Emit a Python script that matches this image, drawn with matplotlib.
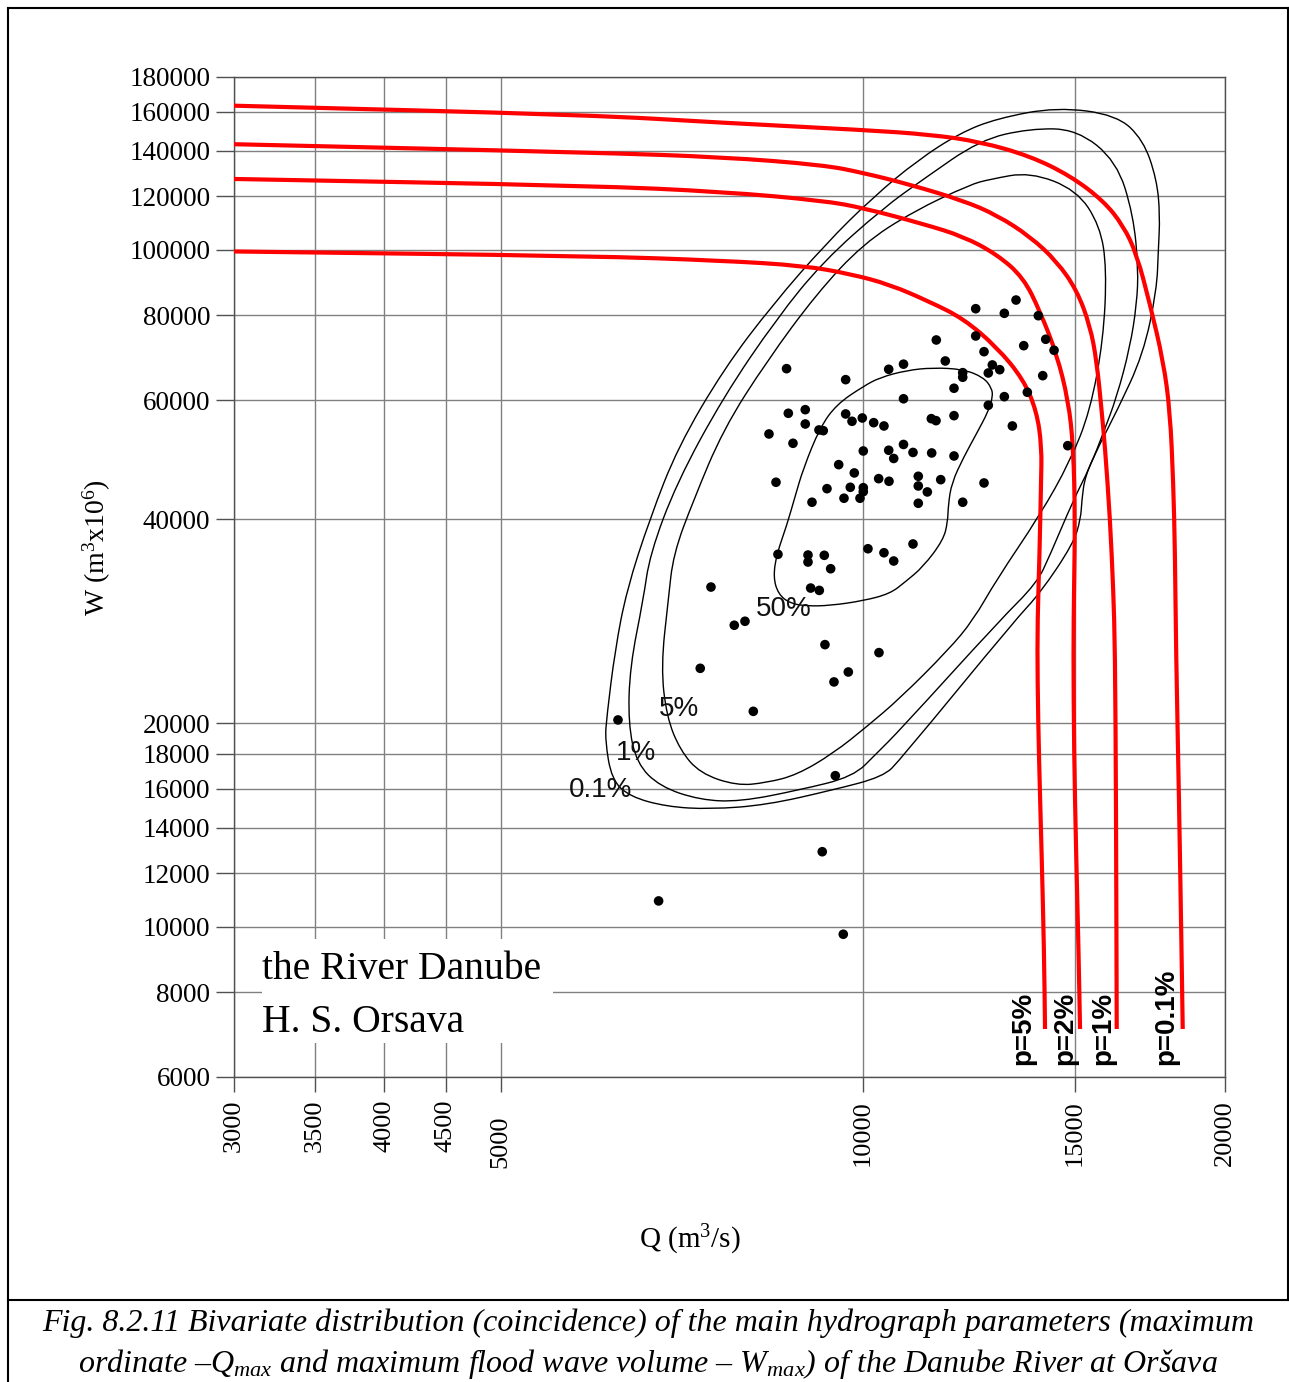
import numpy as np
import matplotlib
matplotlib.use("Agg")
import matplotlib.pyplot as plt
from matplotlib.lines import Line2D
from matplotlib.patches import Rectangle, PathPatch
from matplotlib.path import Path
from matplotlib.ticker import NullLocator
from matplotlib.transforms import blended_transform_factory

plt.rcParams["font.family"] = ["Liberation Serif", "DejaVu Serif"]
plt.rcParams["mathtext.fontset"] = "custom"
plt.rcParams["mathtext.rm"] = "Liberation Serif"
plt.rcParams["mathtext.it"] = "Liberation Serif:italic"
plt.rcParams["mathtext.bf"] = "Liberation Serif:bold"

# ---- axis ticks -------------------------------------------------------
x_ticks = [3000, 3500, 4000, 4500, 5000, 10000, 15000, 20000]
x_tick_labels = ["3000", "3500", "4000", "4500", "5000", "10000", "15000", "20000"]
y_ticks = [6000, 8000, 10000, 12000, 14000, 16000, 18000, 20000,
           40000, 60000, 80000, 100000, 120000, 140000, 160000, 180000]
y_tick_labels = [str(v) for v in y_ticks]

# ---- observed flood events: peak discharge Q (m3/s), volume W (10^6 m3)
q_obs = [8640, 9675, 10506, 10808, 10808, 8669, 8955, 8955, 8354, 8747,
         9193, 9269, 9675, 9793, 9988, 10208, 10411, 10007, 10506, 10808,
         10607, 12410, 13406, 13109, 13991, 11508, 12410, 14190, 13605, 14418,
         12609, 11708, 12811, 12994, 12713, 12105, 12105, 14109, 11905, 13699,
         13109, 12713, 11399, 11502, 11905, 13312, 11006, 11407, 11905, 14801,
         8467, 9547, 9836, 10306, 10512, 9335, 9761, 10007, 10007, 9644,
         9944, 9071, 10097, 10411, 10607, 8499, 9002, 9002, 9287, 9401,
         9048, 9199, 11118, 11118, 11606, 11312, 11118, 12105, 12609, 11006,
         7817, 7979, 7324, 9299, 10312, 9724, 9461, 8107, 6257, 9485,
         9251, 6763, 9631, 7476]
w_obs = [66750, 64300, 66610, 67780, 60255, 57350, 58060, 55300, 53455, 51790,
         54190, 54060, 57220, 55810, 56440, 55550, 54930, 50450, 50575, 51580,
         49180, 81850, 84300, 80580, 79925, 73590, 74600, 73770, 72180, 71060,
         70720, 68520, 67600, 66520, 65780, 65850, 64830, 65180, 62450, 61600,
         60690, 58940, 56310, 55930, 56890, 54930, 50200, 50110, 49600, 51370,
         45360, 48160, 46820, 45920, 45510, 44380, 44590, 44530, 43930, 42960,
         42960, 42380, 36180, 35690, 34700, 35500, 35415, 34580, 35380, 33800,
         31650, 31400, 46290, 44790, 45760, 43890, 42230, 42380, 45250, 36770,
         27890, 28270, 24090, 26110, 25410, 23790, 23000, 20810, 20210, 16720,
         12910, 10920, 9750, 31760]

# ---- joint density contours (closed outlines) ------------------------
c50_q = [9511, 10007, 10332, 10874, 11436, 12119, 12593, 12797, 12821, 12713,
         12434, 12119, 11853, 11776, 11762, 11663, 11225, 10839, 10532, 10007,
         9389, 8979, 8697, 8504, 8423, 8478, 8642, 8780, 8921, 9211]
c50_w = [59135, 62851, 64782, 66366, 66978, 66614, 64827, 62510, 60604, 57726,
         53582, 49284, 45266, 42084, 39623, 37269, 34034, 32299, 31052, 30310,
         29819, 29768, 30043, 31010, 32854, 35500, 39141, 43146, 47515, 54650]

c5_q = [6794, 6889, 6956, 7227, 7655, 8317, 9153, 10007, 11012, 12276,
        12755, 13769, 15058, 15744, 15947, 15844, 15446, 14867, 14036, 12920,
        12353, 11776, 10736, 10072, 9449, 8809, 8317, 7853, 7320, 7046, 6868]
c5_w = [24224, 30388, 35500, 42602, 54315, 68422, 86164, 102130, 113942, 124846,
        127121, 130271, 122576, 108531, 93825, 73593, 57726, 48699, 40574, 32603,
        28390, 25639, 21755, 19750, 18043, 16760, 16327, 16161, 16857, 18247, 20434]

c1_q = [6381, 6402, 6566, 6651, 7001, 7655, 8478, 9269, 10398, 11225,
        12513, 13769, 15058, 16256, 16781, 16942, 16890, 16675, 16256, 15844,
        15446, 14961, 14308, 13947, 13001, 10736, 10267, 9818, 8865, 7903,
        7320, 6781, 6484]
c1_w = [19980, 24224, 30388, 35500, 45266, 60604, 79157, 96149, 115306, 127121,
        145319, 151058, 150700, 135104, 112556, 93825, 83097, 71842, 60604, 53654,
        47774, 42703, 35415, 32164, 28390, 19532, 18043, 16663, 15932, 15305,
        15394, 16106, 17439]

c01_q = [6104, 6124, 6222, 6362, 6651, 7018, 7666, 8418, 9317, 10195,
         11112, 12043, 12920, 14493, 16256, 17105, 17549, 17660, 17603, 17549,
         17105, 16256, 15744, 15300, 15203, 15174, 14961, 14036, 13381, 10736,
         10398, 9449, 8317, 7462, 6868, 6402, 6183]
c01_w = [18879, 20434, 25639, 31439, 40090, 51145, 66767, 83097, 102130, 119588,
         135765, 148806, 156290, 162488, 158213, 145319, 127121, 112556, 99711, 87226,
         70105, 57726, 51741, 46382, 42602, 40090, 36814, 31088, 28390, 17637,
         16663, 15932, 15134, 14915, 15047, 15568, 16477]

contour_names = ["50%", "5%", "1%", "0.1%"]
contour_label_q = [8597, 7032, 6476, 6046]
contour_label_w = [29475, 20977, 18061, 15926]

# ---- joint exceedance probability curves -----------------------------
p5_q = [3000, 5931, 7655, 8921, 9755, 10532, 11371, 12119, 12920, 13595,
        13947, 14082, 14063, 14023, 13968, 13968, 14009, 14077, 14144, 14171]
p5_w = [99441, 97931, 96379, 94754, 92147, 88848, 83749, 79157, 71842, 64384,
        57726, 51145, 45252, 35537, 28390, 23151, 17637, 12989, 9241, 7064]

p2_q = [3000, 5931, 7655, 9269, 10007, 11225, 12119, 12920, 13595, 14036,
        14493, 14818, 14961, 15009, 14980, 14961, 14980, 15038, 15110, 15153]
p2_w = [127250, 124385, 121828, 118193, 115306, 109199, 104657, 98500, 91024, 81113,
        70105, 59855, 51127, 40090, 31439, 25639, 18247, 12989, 9241, 7064]

p1_q = [3000, 5931, 7655, 9269, 10007, 10943, 12119, 12920, 13769, 14493,
        15058, 15446, 15645, 15795, 15895, 16048, 16150, 16203, 16234, 16256]
p1_w = [143213, 139253, 137093, 133441, 129919, 124846, 118193, 112556, 104657, 96149,
        87226, 77260, 68422, 57726, 51127, 40090, 31439, 25639, 15394, 7064]

p01_q = [3000, 5931, 7655, 10007, 11371, 12513, 13769, 14867, 15844, 16463,
         16890, 17325, 17773, 18002, 18116, 18175, 18210, 18315, 18403, 18445]
p01_w = [163267, 158213, 154019, 150340, 148010, 144434, 137561, 128687, 118193, 108531,
         98500, 83097, 68422, 57726, 45266, 35500, 25639, 15394, 9241, 7064]

p_names = ["p=5%", "p=2%", "p=1%", "p=0.1%"]
p_label_q = [13587, 14725, 15835, 17864]
p_label_w = 6250


def smooth_path(qs, ws, closed):
    """Quadratic Bezier path through the given vertices (log-log plane)."""
    p = np.column_stack([np.log10(qs), np.log10(ws)])
    if closed:
        mids = (p + np.roll(p, -1, axis=0)) / 2
        verts = [mids[-1]]
        codes = [Path.MOVETO]
        for i in range(len(p)):
            verts += [p[i], mids[i]]
            codes += [Path.CURVE3, Path.CURVE3]
    else:
        mids = (p[:-1] + p[1:]) / 2
        verts = [p[0], mids[0]]
        codes = [Path.MOVETO, Path.LINETO]
        for i in range(1, len(p) - 1):
            verts += [p[i], mids[i]]
            codes += [Path.CURVE3, Path.CURVE3]
        verts.append(p[-1])
        codes.append(Path.LINETO)
    return Path(10 ** np.array(verts), codes)


# ---- figure ----------------------------------------------------------
W_PX, H_PX = 1289, 1382
fig = plt.figure(figsize=(W_PX / 100, H_PX / 100), dpi=100)
fig.patch.set_facecolor("white")


def fx(px):
    return px / W_PX


def fy(py):
    return 1 - py / H_PX


ax = fig.add_axes([fx(234), fy(1077), fx(1225) - fx(234), fy(77) - fy(1077)])
ax.set_xscale("log")
ax.set_yscale("log")

ax.set_axisbelow(True)
ax.grid(True, which="major", color="#808080", linewidth=1.0)
for s in ax.spines.values():
    s.set_color("#505050")
    s.set_linewidth(1.0)

# station name box
ax.add_patch(Rectangle((0.0283, 0.034), 0.2936, 0.104, transform=ax.transAxes,
                       facecolor="white", edgecolor="none", zorder=1.5))
ax.text(0.0283, 0.0977, "the River Danube", transform=ax.transAxes,
        ha="left", va="baseline", fontsize=28.5, zorder=6)
ax.text(0.0283, 0.0453, "H. S. Orsava", transform=ax.transAxes,
        ha="left", va="baseline", fontsize=28.5, zorder=6)

# density contours
for cq, cw in [(c50_q, c50_w), (c5_q, c5_w), (c1_q, c1_w), (c01_q, c01_w)]:
    ax.add_patch(PathPatch(smooth_path(cq, cw, True), fill=False,
                           edgecolor="black", linewidth=1.0, zorder=3))
for name, lq, lw_ in zip(contour_names, contour_label_q, contour_label_w):
    ax.text(lq, lw_, name, ha="center", va="center", fontsize=20,
            family="Liberation Sans", color="#111111", zorder=6)

# joint exceedance curves
for cq, cw in [(p5_q, p5_w), (p2_q, p2_w), (p1_q, p1_w), (p01_q, p01_w)]:
    ax.add_patch(PathPatch(smooth_path(cq, cw, False), fill=False,
                           edgecolor="#ff0000", linewidth=3.0, capstyle="butt",
                           joinstyle="round", zorder=4))
for name, lq in zip(p_names, p_label_q):
    ax.text(lq, p_label_w, name, rotation=90, ha="center", va="bottom",
            fontsize=20, fontweight="bold", family="Liberation Sans", zorder=6)

# observations
ax.scatter(q_obs, w_obs, s=48, color="black", edgecolors="none", zorder=5)

ax.set_xlim(3000, 20000)
ax.set_ylim(6000, 180000)
ax.set_xticks(x_ticks)
ax.set_xticklabels([])
ax.set_yticks(y_ticks)
ax.set_yticklabels(y_tick_labels)
ax.xaxis.set_minor_locator(NullLocator())
ax.yaxis.set_minor_locator(NullLocator())
ax.tick_params(axis="y", length=13, width=1.0, color="#505050", pad=4,
               labelsize=19.5)
ax.tick_params(axis="x", length=11, width=1.0, color="#505050",
               labelbottom=False)

# rotated Q tick labels
xlab_tr = blended_transform_factory(ax.transData, ax.transAxes)
for v, lab in zip(x_ticks, x_tick_labels):
    off = -0.038 if lab == "5000" else -0.023
    ax.text(v, off, lab, transform=xlab_tr, rotation=90, ha="center",
            va="top", fontsize=19)

# axis titles
fig.text(fx(97), fy(548), r"W (m$^3$x10$^6$)", rotation=90, ha="center",
         va="center", fontsize=20)
fig.text(fx(690), fy(1240), r"Q (m$^3$/s)", ha="center", va="center",
         fontsize=21)

# page frame
frame_kw = dict(color="black", linewidth=1.5, transform=fig.transFigure)
fig.add_artist(Line2D([fx(8), fx(8)], [fy(8), fy(1382)], **frame_kw))
fig.add_artist(Line2D([fx(8), fx(1289)], [fy(8), fy(8)], **frame_kw))
fig.add_artist(Line2D([fx(1287.5), fx(1287.5)], [fy(8), fy(1300)], **frame_kw))
fig.add_artist(Line2D([fx(8), fx(1289)], [fy(1300), fy(1300)], **frame_kw))

# caption
fig.text(fx(648), fy(1331),
         "Fig. 8.2.11 Bivariate distribution (coincidence) of the main "
         "hydrograph parameters (maximum",
         ha="center", va="baseline", fontsize=23, style="italic")
fig.text(fx(648), fy(1372),
         r"ordinate –$Q_{max}$ and maximum flood wave volume – $W_{max}$) "
         r"of the Danube River at Oršava",
         ha="center", va="baseline", fontsize=23, style="italic")

fig.savefig("out.png", dpi=100, facecolor="white")
